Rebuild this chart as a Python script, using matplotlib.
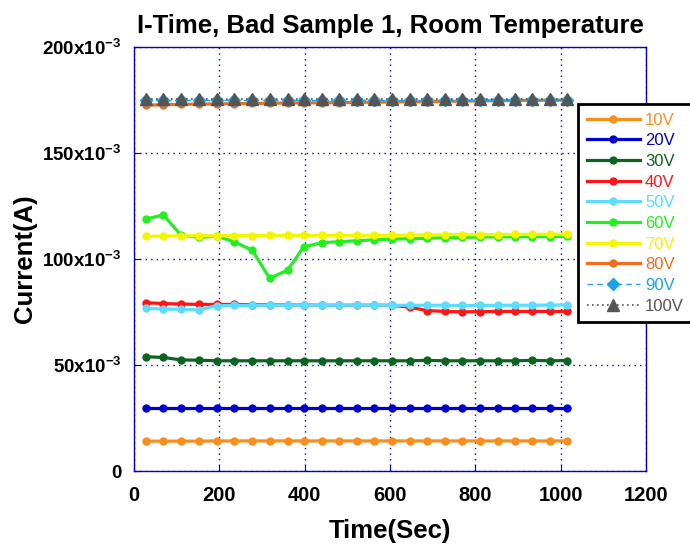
import matplotlib.pyplot as plt
from matplotlib.ticker import FixedLocator, FuncFormatter

plt.rcParams['font.family'] = ['Liberation Sans', 'DejaVu Sans']
plt.rcParams['mathtext.fontset'] = 'custom'
plt.rcParams['mathtext.rm'] = 'Liberation Sans'
plt.rcParams['mathtext.bf'] = 'Liberation Sans:bold'

# sampling times (s)
time_s = [28, 69, 110, 152, 194, 234, 277, 318, 360, 398, 440, 481, 522,
          563, 604, 646, 687, 728, 769, 810, 852, 893, 934, 975, 1016]

# current (A) per applied voltage
i_10v = [0.0141, 0.0141, 0.0141, 0.0141, 0.0142, 0.0142, 0.0142, 0.0142, 0.0142,
         0.0142, 0.0142, 0.0142, 0.0142, 0.0142, 0.0142, 0.0142, 0.0142, 0.0142,
         0.0142, 0.0142, 0.0142, 0.0142, 0.0142, 0.0142, 0.0142]
i_20v = [0.0299, 0.0299, 0.0299, 0.0299, 0.0299, 0.0299, 0.0299, 0.0299, 0.0299,
         0.0299, 0.0299, 0.0299, 0.0299, 0.0299, 0.0299, 0.0299, 0.0299, 0.0299,
         0.0299, 0.0299, 0.0299, 0.0299, 0.0299, 0.0299, 0.0299]
i_30v = [0.0539, 0.0536, 0.0524, 0.0523, 0.0520, 0.0520, 0.0520, 0.0520, 0.0520,
         0.0520, 0.0520, 0.0520, 0.0520, 0.0520, 0.0520, 0.0520, 0.0522, 0.0520,
         0.0520, 0.0520, 0.0520, 0.0520, 0.0522, 0.0520, 0.0521]
i_40v = [0.0794, 0.0790, 0.0788, 0.0786, 0.0786, 0.0786, 0.0785, 0.0784, 0.0783,
         0.0783, 0.0782, 0.0782, 0.0782, 0.0782, 0.0782, 0.0773, 0.0757, 0.0753,
         0.0751, 0.0752, 0.0753, 0.0753, 0.0753, 0.0753, 0.0753]
i_50v = [0.0767, 0.0764, 0.0763, 0.0760, 0.0780, 0.0781, 0.0782, 0.0782, 0.0782,
         0.0782, 0.0782, 0.0782, 0.0782, 0.0782, 0.0782, 0.0782, 0.0782, 0.0782,
         0.0781, 0.0781, 0.0782, 0.0782, 0.0782, 0.0783, 0.0783]
i_60v = [0.1189, 0.1208, 0.1113, 0.1102, 0.1108, 0.1082, 0.1042, 0.0909, 0.0948,
         0.1058, 0.1077, 0.1082, 0.1086, 0.1091, 0.1094, 0.1096, 0.1098, 0.1101,
         0.1102, 0.1104, 0.1105, 0.1105, 0.1106, 0.1106, 0.1108]
i_70v = [0.1108, 0.1108, 0.1110, 0.1110, 0.1110, 0.1111, 0.1111, 0.1112, 0.1112,
         0.1112, 0.1112, 0.1112, 0.1112, 0.1112, 0.1112, 0.1113, 0.1114, 0.1115,
         0.1115, 0.1115, 0.1115, 0.1116, 0.1116, 0.1117, 0.1117]
i_80v = [0.1726, 0.1728, 0.1730, 0.1731, 0.1732, 0.1733, 0.1734, 0.1735, 0.1736,
         0.1737, 0.1737, 0.1738, 0.1739, 0.1740, 0.1741, 0.1742, 0.1743, 0.1744,
         0.1745, 0.1746, 0.1747, 0.1748, 0.1749, 0.1749, 0.1750]
i_90v = [0.1752] * 25
i_100v = [0.1754] * 25

labels = ['10V', '20V', '30V', '40V', '50V', '60V', '70V', '80V', '90V', '100V']
colors = ['#F98E1D', '#0000CC', '#0B6420', '#FF1515', '#5CDCFF', '#22EE22',
          '#F5F500', '#EE6E1E', '#1AA3E8', '#555555']
series = [i_10v, i_20v, i_30v, i_40v, i_50v, i_60v, i_70v, i_80v, i_90v, i_100v]

fig = plt.figure(figsize=(6.9, 5.52), dpi=100)
ax = fig.add_axes([0.1942, 0.1467, 0.742, 0.768])

for lab, col, ys in zip(labels, colors, series):
    if lab == '90V':
        ax.plot(time_s, ys, color=col, ls=(0, (4, 3)), lw=1, marker='D',
                markersize=6, label=lab)
    elif lab == '100V':
        ax.plot(time_s, ys, color=col, ls=(0, (1, 2)), lw=1.2, marker='^',
                markersize=8, label=lab)
    else:
        ax.plot(time_s, ys, color=col, lw=2.3, marker='o', markersize=5,
                label=lab)

ax.set_xlim(0, 1200)
ax.set_ylim(0, 0.2)
ax.xaxis.set_major_locator(FixedLocator([0, 200, 400, 600, 800, 1000, 1200]))
ax.yaxis.set_major_locator(FixedLocator([0, 0.05, 0.1, 0.15, 0.2]))


def fmt_current(v, pos):
    if abs(v) < 1e-9:
        return '0'
    return r'$\mathbf{%dx10^{-3}}$' % round(v * 1000)


ax.yaxis.set_major_formatter(FuncFormatter(fmt_current))
ax.grid(True, color='#0000CC', ls=(0, (1, 3)), lw=1)
for sp in ax.spines.values():
    sp.set_color('#0000CC')
    sp.set_linewidth(1)
ax.tick_params(direction='in', length=4, color='#0000CC')
ax.tick_params(axis='x', labelsize=14.5, pad=11)
ax.tick_params(axis='y', labelsize=13.5, pad=9)
for t in ax.get_xticklabels() + ax.get_yticklabels():
    t.set_fontweight('bold')

ax.set_xlabel('Time(Sec)', fontsize=18.5, fontweight='bold', labelpad=10)
ax.set_ylabel('Current(A)', fontsize=18.5, fontweight='bold')
ax.yaxis.set_label_coords(-0.19, 0.5)
ax.set_title('I-Time, Bad Sample 1, Room Temperature', fontsize=18.5,
             fontweight='bold', pad=10)

leg = ax.legend(loc='upper left', bbox_to_anchor=(0.868, 0.865),
                fontsize=12, frameon=True, fancybox=False, handlelength=3.2,
                borderpad=0.5, labelspacing=0.34, handletextpad=0.3,
                borderaxespad=0)
leg.get_frame().set_edgecolor('black')
leg.get_frame().set_linewidth(2)
leg.get_frame().set_alpha(1)
for txt, col in zip(leg.get_texts(), colors):
    txt.set_color(col)

fig.savefig('out.png', dpi=100)
